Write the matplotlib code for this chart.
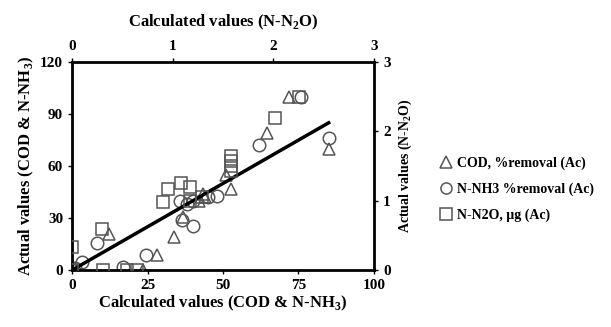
import matplotlib.pyplot as plt

plt.rcParams['font.family'] = ['Liberation Serif', 'DejaVu Serif']
plt.rcParams['font.weight'] = 'bold'
plt.rcParams['mathtext.fontset'] = 'custom'
plt.rcParams['mathtext.rm'] = 'Liberation Serif'
plt.rcParams['mathtext.bf'] = 'Liberation Serif:bold'

# COD, %removal (calculated, actual)
cod_calc = [0, 1, 12.3, 23.5, 28, 33.8, 36.8, 42, 43.4, 44, 51, 52.6, 64.6, 72, 85]
cod_act = [0, 1, 21, 0, 9, 19, 30.6, 40, 44, 42, 55, 47, 79, 100, 70]

# N-NH3 %removal (calculated, actual)
nh3_calc = [0, 1, 3.3, 8.3, 17, 24.5, 35.8, 36.4, 40, 38, 40, 45, 48, 62, 76, 85]
nh3_act = [0, 1, 4.7, 15.6, 2, 8.7, 40, 29, 25.4, 38, 40, 42, 43, 72, 100, 76]

# N-N2O, ug (calculated, actual) on the top / right scales
n2o_calc = [0, 0, 0.30, 0.31, 0.55, 0.65, 0.90, 0.95, 1.08, 1.17, 1.17, 1.29,
            1.58, 1.58, 1.58, 1.58, 2.02, 2.26]
n2o_act = [0, 0.33, 0.60, 0, 0, 0, 0.98, 1.17, 1.25, 1.20, 1.0, 1.05,
           1.65, 1.58, 1.50, 1.43, 2.2, 2.5]

# fitted line
fit_x = [0, 85]
fit_y = [0, 85]

fig = plt.figure(figsize=(6.11, 3.27), dpi=100)
ax = fig.add_axes([0.118, 0.174, 0.494, 0.636])
ax2 = fig.add_axes(ax.get_position(), frameon=False)

grey = '#555555'
mk = dict(linestyle='none', markerfacecolor='none', markeredgecolor=grey,
          markeredgewidth=1.1)

ax.plot(cod_calc, cod_act, marker='^', markersize=9, **mk)
ax.plot(nh3_calc, nh3_act, marker='o', markersize=9, **mk)
ax2.plot(n2o_calc, n2o_act, marker='s', markersize=9, **mk)
ax.plot(fit_x, fit_y, color='black', linewidth=2.5)

ax.set_xlim(0, 100)
ax.set_ylim(0, 120)
ax.set_xticks([0, 25, 50, 75, 100])
ax.set_yticks([0, 30, 60, 90, 120])
ax2.set_xlim(0, 3)
ax2.set_ylim(0, 3)
ax2.set_xticks([0, 1, 2, 3])
ax2.set_yticks([0, 1, 2, 3])
ax2.xaxis.tick_top()
ax2.yaxis.tick_right()
ax2.xaxis.set_label_position('top')
ax2.yaxis.set_label_position('right')

for s in ax.spines.values():
    s.set_linewidth(2)
for a in (ax, ax2):
    a.tick_params(direction='out', length=3, width=1, labelsize=11)

ax.set_xlabel('Calculated values (COD & N-NH$_\\mathbf{3}$)', fontsize=12, fontweight='bold', labelpad=1)
ax.set_ylabel('Actual values (COD & N-NH$_\\mathbf{3}$)', fontsize=12, fontweight='bold', labelpad=3)
ax2.set_xlabel('Calculated values (N-N$_\\mathbf{2}$O)', fontsize=12, fontweight='bold', labelpad=10)
ax2.set_ylabel('Actual values (N-N$_\\mathbf{2}$O)', fontsize=10, fontweight='bold', labelpad=4)

handles = [
    plt.Line2D([], [], marker='^', markersize=8, **mk),
    plt.Line2D([], [], marker='o', markersize=8, **mk),
    plt.Line2D([], [], marker='s', markersize=8, **mk),
]
labels = ['COD, %removal (Ac)', 'N-NH3 %removal (Ac)', 'N-N2O, \u00b5g (Ac)']
fig.legend(handles, labels, loc='center left', bbox_to_anchor=(0.70, 0.42),
           frameon=False, fontsize=10, handlelength=0.8, handletextpad=0.4,
           labelspacing=0.9)

plt.savefig('out.png')
